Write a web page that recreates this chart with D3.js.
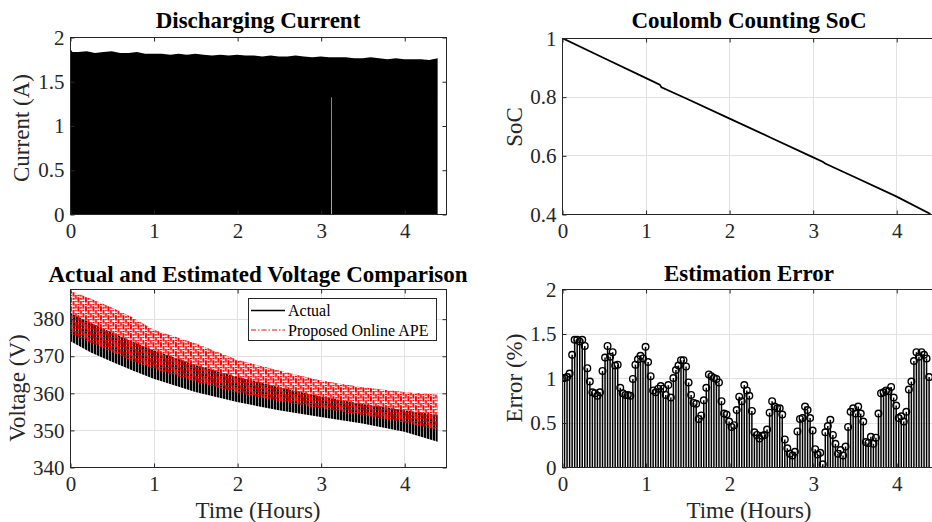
<!DOCTYPE html>
<html>
<head>
<meta charset="utf-8">
<script src="https://cdn.jsdelivr.net/npm/d3@7"></script>
<style>
  html, body { margin: 0; padding: 0; background: #fff; }
  svg { display: block; font-family: "Liberation Serif", "Times New Roman", serif; }
</style>
</head>
<body>
<svg id="fig" width="932" height="522"></svg>
<script>
// ---- Discharging current: peak envelope of the pulsed load, floor of each pulse ----
const currentHours = [0, 0.03, 0.1, 0.2, 0.3, 0.4, 0.5, 0.6, 0.7, 0.8, 0.9, 1.0, 1.1, 1.2, 1.3, 1.4, 1.5,
  1.6, 1.7, 1.8, 1.9, 2.0, 2.1, 2.2, 2.3, 2.4, 2.5, 2.6, 2.7, 2.8, 2.9, 3.0, 3.1,
  3.126, 3.127, 3.133, 3.134, 3.2, 3.3, 3.4, 3.5, 3.6, 3.7, 3.8, 3.9, 4.0, 4.1, 4.2, 4.3, 4.4];
const currentPeak = [1.87, 1.83, 1.83, 1.84, 1.82, 1.83, 1.84, 1.82, 1.82, 1.83, 1.81, 1.81, 1.81, 1.80, 1.81, 1.80, 1.81,
  1.80, 1.79, 1.80, 1.79, 1.80, 1.79, 1.79, 1.78, 1.79, 1.78, 1.78, 1.79, 1.78, 1.77, 1.78, 1.77,
  1.77, 1.77, 1.77, 1.77, 1.77, 1.77, 1.76, 1.76, 1.77, 1.76, 1.75, 1.76, 1.75, 1.75, 1.75, 1.74, 1.76];
const currentFloor = [0, 0, 0, 0, 0, 0, 0, 0, 0, 0, 0, 0, 0, 0, 0, 0, 0,
  0, 0, 0, 0, 0, 0, 0, 0, 0, 0, 0, 0, 0, 0, 0, 0,
  0, 1.32, 1.32, 0, 0, 0, 0, 0, 0, 0, 0, 0, 0, 0, 0, 0, 0];

// ---- Coulomb counting state of charge ----
const socHours = [0, 0.5, 1.0, 1.17, 1.19, 1.5, 2.0, 2.5, 3.0, 3.12, 3.15, 3.5, 4.0, 4.41];
const socValues = [1.0, 0.932, 0.864, 0.841, 0.832, 0.792, 0.726, 0.660, 0.594, 0.578, 0.572, 0.526, 0.460, 0.400];

// ---- Terminal voltage bands (upper / lower envelope of the ripple) ----
const voltHours = [0, 0.25, 0.5, 0.75, 1.0, 1.5, 2.0, 2.5, 3.0, 3.5, 4.0, 4.4];
const actualHigh = [381.5, 378.8, 376.3, 373.8, 371.5, 367.5, 364.3, 361.5, 359.0, 357.0, 355.3, 354.0];
const actualLow = [374.0, 370.9, 368.4, 366.0, 363.8, 360.2, 357.5, 355.3, 353.5, 351.7, 349.5, 346.8];
const apeHigh = [387.5, 385.4, 383.0, 380.3, 377.0, 373.4, 368.9, 366.0, 363.3, 361.5, 360.2, 359.5];
const apeLow = [376.0, 373.5, 371.0, 368.5, 366.5, 363.0, 360.0, 357.8, 355.8, 354.0, 352.0, 350.0];
const voltLegend = ["Actual", "Proposed Online APE"];

// ---- SoC estimation error (%), sampled every errorStepHours ----
const errorStepHours = 0.0303;
const errorPct = [
  1.00, 1.00, 1.01, 1.05, 1.26, 1.43, 1.43, 1.41, 1.43, 1.36,
  1.11, 0.96, 0.84, 0.83, 0.80, 0.84, 1.08, 1.23, 1.36, 1.24,
  1.29, 1.14, 1.15, 0.89, 0.83, 0.81, 0.81, 0.80, 0.99, 1.15,
  1.21, 1.25, 1.22, 1.35, 1.18, 1.02, 0.86, 0.84, 0.88, 0.91,
  0.88, 0.81, 0.92, 0.78, 1.00, 1.09, 1.14, 1.20, 1.20, 1.13,
  0.95, 0.81, 0.72, 0.71, 0.54, 0.58, 0.75, 0.89, 1.04, 1.02,
  1.00, 0.99, 0.95, 0.74, 0.60, 0.59, 0.51, 0.45, 0.47, 0.64,
  0.79, 0.74, 0.92, 0.86, 0.80, 0.63, 0.39, 0.36, 0.32, 0.35,
  0.36, 0.42, 0.61, 0.74, 0.68, 0.66, 0.66, 0.59, 0.31, 0.21,
  0.15, 0.13, 0.17, 0.40, 0.54, 0.55, 0.68, 0.64, 0.55, 0.41,
  0.20, 0.14, 0.16, 0.03, 0.39, 0.46, 0.53, 0.36, 0.26, 0.15,
  0.19, 0.13, 0.23, 0.45, 0.62, 0.66, 0.60, 0.68, 0.60, 0.51,
  0.28, 0.27, 0.34, 0.26, 0.33, 0.60, 0.83, 0.84, 0.86, 0.85,
  0.90, 0.78, 0.69, 0.55, 0.57, 0.51, 0.62, 0.87, 0.96, 1.19,
  1.29, 1.24, 1.29, 1.26, 1.22, 1.01
];

// ---- tick values ----
const hourTicks = [0, 1, 2, 3, 4];
const currentTicks = [0, 0.5, 1, 1.5, 2];
const socTicks = [0.4, 0.6, 0.8, 1];
const voltTicks = [340, 350, 360, 370, 380];
const errorTicks = [0, 0.5, 1, 1.5, 2];

// ---- figure setup ----
const svg = d3.select("#fig");
const AX = "#262626";
const GRID = "#e2e2e2";
const TICK_FONT = 21;

const defs = svg.append("defs");
// Dense ripple texture for the measured voltage trace
const pa = defs.append("pattern").attr("id", "actualTexture")
  .attr("patternUnits", "userSpaceOnUse").attr("width", 3).attr("height", 10);
pa.append("rect").attr("x", 0).attr("y", 0).attr("width", 2.4).attr("height", 10).attr("fill", "#000");
// Dash-dot ripple texture for the estimated voltage trace
const pr = defs.append("pattern").attr("id", "apeTexture")
  .attr("patternUnits", "userSpaceOnUse").attr("width", 7.5).attr("height", 9);
[
  [0, 0, 4.6], [0, 5.8, 1.4], [0, 8.2, 0.8],
  [2.5, 3, 4.6], [2.5, 8.8, 0.2], [2.5, 0, 1.8],
  [5, 6, 3], [5, 0, 1.6], [5, 2.8, 1.4]
].forEach(([px, py, ph]) => {
  pr.append("rect").attr("x", px).attr("y", py).attr("width", 1.9).attr("height", ph).attr("fill", "#ff0000");
});

let clipId = 0;
function panel(o) {
  const g = svg.append("g").attr("transform", `translate(${o.left},${o.top})`);
  const x = d3.scaleLinear().domain([0, 4.5]).range([0, o.width]);
  const y = d3.scaleLinear().domain(o.yDomain).range([o.height, 0]);

  if (o.grid) {
    const grid = g.append("g").attr("stroke", GRID).attr("stroke-width", 1);
    grid.selectAll("line.gx").data(hourTicks.filter(d => d > 0)).join("line")
      .attr("x1", d => Math.round(x(d)) + 0.5).attr("x2", d => Math.round(x(d)) + 0.5)
      .attr("y1", 0).attr("y2", o.height);
    grid.selectAll("line.gy").data(o.yTicks.filter(d => d > o.yDomain[0] && d < o.yDomain[1])).join("line")
      .attr("y1", d => Math.round(y(d)) + 0.5).attr("y2", d => Math.round(y(d)) + 0.5)
      .attr("x1", 0).attr("x2", o.width);
  }

  const id = "clip" + (clipId++);
  g.append("clipPath").attr("id", id).append("rect").attr("width", o.width).attr("height", o.height);
  const plot = g.append("g").attr("clip-path", `url(#${id})`);

  // frame
  g.append("rect").attr("x", 0.5).attr("y", 0.5).attr("width", o.width).attr("height", o.height)
    .attr("fill", "none").attr("stroke", AX).attr("stroke-width", 1);

  const styleAxis = sel => {
    sel.select(".domain").remove();
    sel.selectAll(".tick line").attr("stroke", AX);
    sel.selectAll(".tick text").attr("fill", AX).attr("font-size", TICK_FONT)
      .attr("font-family", "Liberation Serif, Times New Roman, serif");
  };
  g.append("g").attr("transform", `translate(0.5,${o.height + 0.5})`)
    .call(d3.axisBottom(x).tickValues(hourTicks).tickSize(-4).tickPadding(9).tickFormat(d3.format("d")))
    .call(styleAxis);
  g.append("g").attr("transform", `translate(0.5,0.5)`)
    .call(d3.axisTop(x).tickValues(hourTicks).tickSize(-4).tickFormat(""))
    .call(styleAxis);
  g.append("g").attr("transform", `translate(0.5,0.5)`)
    .call(d3.axisLeft(y).tickValues(o.yTicks).tickSize(-4).tickPadding(6).tickFormat(d => String(d)))
    .call(styleAxis);
  g.append("g").attr("transform", `translate(${o.width + 0.5},0.5)`)
    .call(d3.axisRight(y).tickValues(o.yTicks).tickSize(-4).tickFormat(""))
    .call(styleAxis);

  // title
  g.append("text").attr("x", o.titleX).attr("y", o.titleY).attr("text-anchor", "middle")
    .attr("font-size", 23).attr("font-weight", "bold").attr("fill", "#000").text(o.title);
  // y label
  g.append("text").attr("transform", `translate(${o.ylabelX},${o.ylabelY}) rotate(-90)`)
    .attr("text-anchor", "middle").attr("font-size", 23).attr("fill", AX).text(o.ylabel);
  if (o.xlabel) {
    g.append("text").attr("x", o.titleX).attr("y", o.xlabelY).attr("text-anchor", "middle")
      .attr("font-size", 23).attr("fill", AX).text(o.xlabel);
  }
  return { g, plot, x, y };
}

// ---- Discharging Current ----
{
  const p = panel({ left: 70, top: 37, width: 376, height: 177, yDomain: [0, 2], yTicks: currentTicks,
    grid: false, title: "Discharging Current", titleX: 188, titleY: -9,
    ylabel: "Current (A)", ylabelX: -41, ylabelY: 91 });
  const rows = currentHours.map((h, i) => ({ h, hi: currentPeak[i], lo: currentFloor[i] }));
  p.plot.append("path").datum(rows)
    .attr("d", d3.area().x(d => p.x(d.h)).y0(d => p.y(d.lo)).y1(d => p.y(d.hi)))
    .attr("fill", "#000");
}

// ---- Coulomb Counting SoC ----
{
  const p = panel({ left: 562, top: 38, width: 376, height: 176, yDomain: [0.4, 1], yTicks: socTicks,
    grid: true, title: "Coulomb Counting SoC", titleX: 187, titleY: -10,
    ylabel: "SoC", ylabelX: -40, ylabelY: 89 });
  const rows = socHours.map((h, i) => ({ h, v: socValues[i] }));
  p.plot.append("path").datum(rows)
    .attr("d", d3.line().x(d => p.x(d.h)).y(d => p.y(d.v)))
    .attr("fill", "none").attr("stroke", "#000").attr("stroke-width", 1.8);
}

// ---- Actual and Estimated Voltage Comparison ----
{
  const p = panel({ left: 70, top: 289, width: 376, height: 178, yDomain: [340, 388], yTicks: voltTicks,
    grid: true, title: "Actual and Estimated Voltage Comparison", titleX: 188, titleY: -7,
    ylabel: "Voltage (V)", ylabelX: -45, ylabelY: 99, xlabel: "Time (Hours)", xlabelY: 229 });
  const rows = voltHours.map((h, i) => ({ h, ah: actualHigh[i], al: actualLow[i], eh: apeHigh[i], el: apeLow[i] }));
  p.plot.append("path").datum(rows)
    .attr("d", d3.area().x(d => p.x(d.h)).y0(d => p.y(d.al)).y1(d => p.y(d.ah)))
    .attr("fill", "url(#actualTexture)");
  p.plot.append("path").datum(rows)
    .attr("d", d3.area().x(d => p.x(d.h)).y0(d => p.y(d.el)).y1(d => p.y(d.eh)))
    .attr("fill", "url(#apeTexture)");

  // legend
  const lg = p.g.append("g").attr("transform", "translate(178,9)");
  lg.append("rect").attr("x", 0.5).attr("y", 0.5).attr("width", 188).attr("height", 42)
    .attr("fill", "#fff").attr("stroke", AX).attr("stroke-width", 1);
  const styles = [
    { stroke: "#000", width: 1.6, dash: null },
    { stroke: "#ff0000", width: 1, dash: "5,2,1.5,2" }
  ];
  voltLegend.forEach((name, i) => {
    const yy = 12.5 + i * 19.5;
    lg.append("line").attr("x1", 3).attr("x2", 37).attr("y1", yy).attr("y2", yy)
      .attr("stroke", styles[i].stroke).attr("stroke-width", styles[i].width)
      .attr("stroke-dasharray", styles[i].dash);
    lg.append("text").attr("x", 40).attr("y", yy + 5.5).attr("font-size", 16).attr("fill", "#000").text(name);
  });
}

// ---- Estimation Error ----
{
  const p = panel({ left: 562, top: 289, width: 376, height: 178, yDomain: [0, 2], yTicks: errorTicks,
    grid: true, title: "Estimation Error", titleX: 187, titleY: -8,
    ylabel: "Error (%)", ylabelX: -40, ylabelY: 89, xlabel: "Time (Hours)", xlabelY: 229 });
  const rows = errorPct.map((v, i) => ({ h: i * errorStepHours, v }));
  p.plot.selectAll("line.stem").data(rows).join("line").attr("class", "stem")
    .attr("x1", d => p.x(d.h)).attr("x2", d => p.x(d.h))
    .attr("y1", p.y(0)).attr("y2", d => p.y(d.v))
    .attr("stroke", "#000").attr("stroke-width", 1.5);
  p.plot.selectAll("circle.mark").data(rows).join("circle").attr("class", "mark")
    .attr("cx", d => p.x(d.h)).attr("cy", d => p.y(d.v)).attr("r", 3.3)
    .attr("fill", "none").attr("stroke", "#000").attr("stroke-width", 1.4);
}
</script>
</body>
</html>
